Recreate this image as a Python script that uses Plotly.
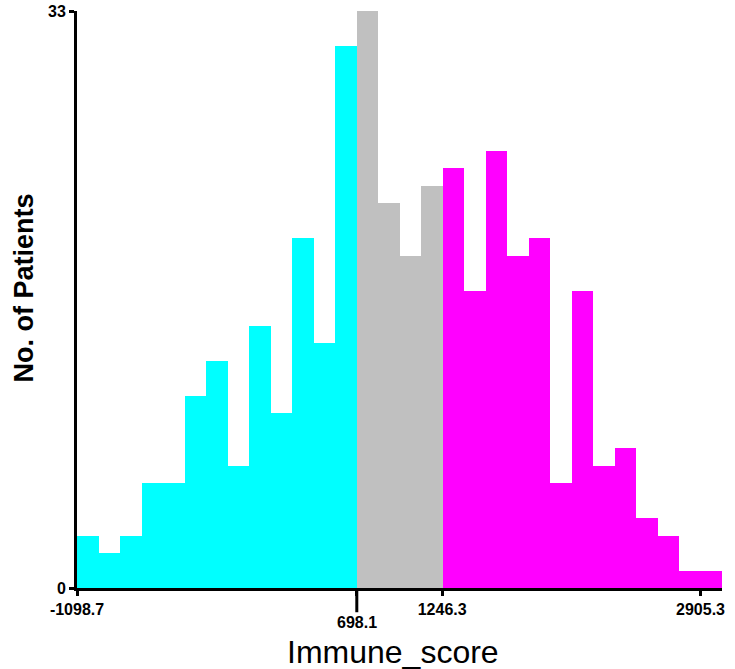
import plotly.graph_objects as go

# bin counts, left to right
low_counts = [3, 2, 3, 6, 6, 11, 13, 7, 15, 10, 20, 14, 31]
mid_counts = [33, 22, 19, 23]
high_counts = [24, 17, 25, 19, 20, 6, 17, 7, 8, 4, 3, 1, 1]

tick_vals = [-1098.7, 698.1, 1246.3, 2905.3]
tick_text = ["-1098.7", "", "1246.3", "2905.3"]
cutoff_low = 698.1

score_min = -1098.7
score_max = 2905.3
n_bins = len(low_counts) + len(mid_counts) + len(high_counts)
bin_w = (score_max - score_min) / (n_bins - 1)

colors = ["#00FFFF", "#C0C0C0", "#FF00FF"]

fig = go.Figure()
start = 0
for counts, col in zip([low_counts, mid_counts, high_counts], colors):
    xs = [score_min + (start + i + 0.5) * bin_w for i in range(len(counts))]
    fig.add_trace(go.Bar(
        x=xs, y=counts, width=bin_w,
        marker=dict(color=col, line=dict(width=0)),
        showlegend=False, hoverinfo="y",
    ))
    start += len(counts)

font = "Arial, 'Liberation Sans', sans-serif"

fig.update_layout(
    width=735, height=669,
    margin=dict(l=77, r=13, t=11, b=81),
    plot_bgcolor="white", paper_bgcolor="white",
    bargap=0,
    font=dict(family=font, color="black"),
)

fig.update_xaxes(
    range=[score_min, score_min + n_bins * bin_w],
    tickvals=tick_vals, ticktext=tick_text,
    tickfont=dict(size=16, weight="bold"),
    showline=True, linecolor="black", linewidth=3,
    ticks="outside", ticklen=5, tickwidth=3, tickcolor="black",
    showgrid=False, zeroline=False, automargin=False,
)
fig.update_yaxes(
    range=[0, 33],
    tickvals=[0, 33], ticktext=["0", "33"],
    tickfont=dict(size=16, weight="bold"),
    showline=True, linecolor="black", linewidth=3,
    ticks="outside", ticklen=5, tickwidth=3, tickcolor="black",
    showgrid=False, zeroline=False, automargin=False,
)

# longer tick and lowered label for the 698.1 cutoff
fig.add_shape(type="line", xref="x", yref="paper",
              x0=cutoff_low, x1=cutoff_low, y0=0, y1=-0.042,
              line=dict(color="black", width=3))
fig.add_annotation(text="698.1", xref="x", yref="paper",
                   x=cutoff_low, y=-0.06, xanchor="center", yanchor="middle",
                   showarrow=False, font=dict(size=16, weight="bold"))

fig.add_annotation(text="Immune_score", xref="paper", yref="paper",
                   x=0.49, y=-0.076, xanchor="center", yanchor="top",
                   showarrow=False, font=dict(size=32, family=font))
fig.add_annotation(text="No. of Patients", xref="paper", yref="paper",
                   x=-0.083, y=0.52, xanchor="center", yanchor="middle",
                   textangle=-90, showarrow=False,
                   font=dict(size=27, family=font, weight="bold"))

fig.write_html("out.html", config={"displayModeBar": False},
               post_script="document.body.style.margin='0px';")
